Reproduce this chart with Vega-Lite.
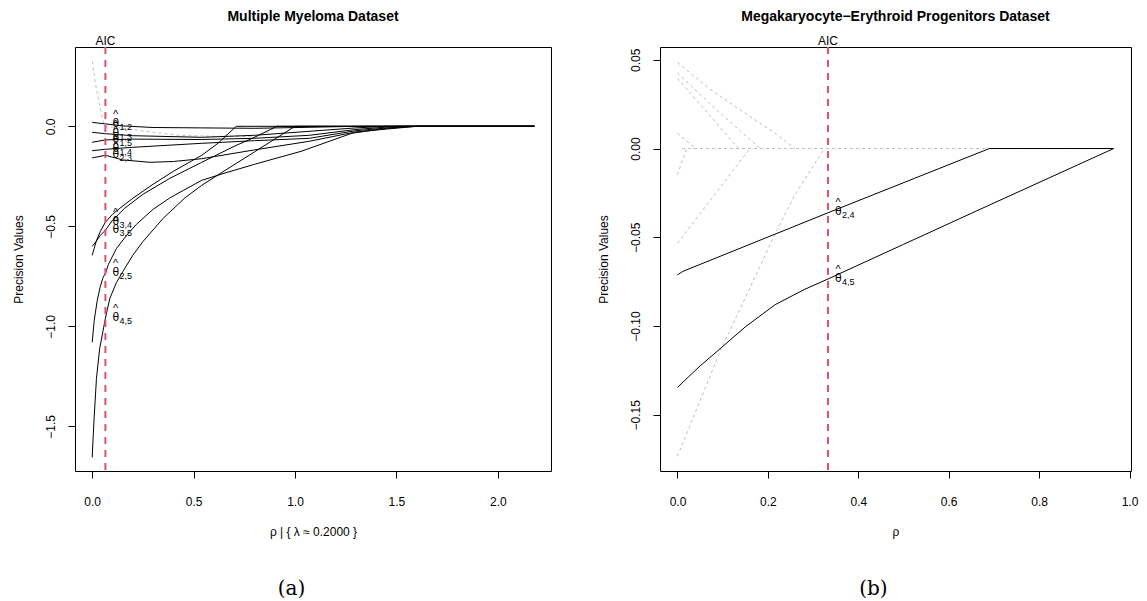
{
"$schema": "https://vega.github.io/schema/vega-lite/v6.json",
"background": "white",
"padding": {"left": 11, "top": 9, "right": 5, "bottom": 0},
"spacing": 44,
"config": {
  "view": {"stroke": "black", "strokeWidth": 1},
  "font": "Liberation Sans",
  "axis": {"domain": false, "grid": false, "tickColor": "black", "tickSize": 7, "labelColor": "black", "titleColor": "black", "labelFont": "Liberation Sans", "titleFont": "Liberation Sans", "labelFontSize": 12, "titleFontSize": 12, "titleFontWeight": "normal", "labelOverlap": false, "labelFlush": false},
  "axisX": {"labelPadding": 18, "titlePadding": 19},
  "axisY": {"labelAngle": 270, "labelAlign": "center", "labelBaseline": "bottom", "labelPadding": 11, "titlePadding": 19},
  "title": {"font": "Liberation Sans", "fontSize": 14, "fontWeight": "bold", "color": "black", "anchor": "middle"}
},
"datasets": {
  "leftLines": [
    {"s":"g24","g":"grey","x":0,"y":0.325},{"s":"g24","g":"grey","x":0.015,"y":0.22},{"s":"g24","g":"grey","x":0.03,"y":0.14},{"s":"g24","g":"grey","x":0.054,"y":0.025},{"s":"g24","g":"grey","x":0.065,"y":0.0},{"s":"g24","g":"grey","x":0.1,"y":-0.004},{"s":"g24","g":"grey","x":0.17,"y":-0.012},{"s":"g24","g":"grey","x":0.3,"y":-0.03},{"s":"g24","g":"grey","x":0.43,"y":-0.045},{"s":"g24","g":"grey","x":0.6,"y":-0.05},{"s":"g24","g":"grey","x":0.81,"y":-0.05},{"s":"g24","g":"grey","x":0.875,"y":-0.025},{"s":"g24","g":"grey","x":0.92,"y":0},{"s":"g24","g":"grey","x":2.18,"y":0},
    {"s":"t12","g":"k","x":0,"y":0.02},{"s":"t12","g":"k","x":0.03,"y":0.016},{"s":"t12","g":"k","x":0.065,"y":0.012},{"s":"t12","g":"k","x":0.15,"y":0.002},{"s":"t12","g":"k","x":0.3,"y":-0.006},{"s":"t12","g":"k","x":0.54,"y":-0.008},{"s":"t12","g":"k","x":0.8,"y":-0.01},{"s":"t12","g":"k","x":1.07,"y":-0.005},{"s":"t12","g":"k","x":1.25,"y":-0.001},{"s":"t12","g":"k","x":1.35,"y":0},{"s":"t12","g":"k","x":2.18,"y":0},
    {"s":"t13","g":"k","x":0,"y":-0.03},{"s":"t13","g":"k","x":0.065,"y":-0.037},{"s":"t13","g":"k","x":0.2,"y":-0.047},{"s":"t13","g":"k","x":0.54,"y":-0.055},{"s":"t13","g":"k","x":0.8,"y":-0.045},{"s":"t13","g":"k","x":1.07,"y":-0.025},{"s":"t13","g":"k","x":1.3,"y":-0.008},{"s":"t13","g":"k","x":1.45,"y":0},{"s":"t13","g":"k","x":2.18,"y":0},
    {"s":"t15","g":"k","x":0,"y":-0.08},{"s":"t15","g":"k","x":0.065,"y":-0.068},{"s":"t15","g":"k","x":0.2,"y":-0.064},{"s":"t15","g":"k","x":0.54,"y":-0.066},{"s":"t15","g":"k","x":0.8,"y":-0.06},{"s":"t15","g":"k","x":1.07,"y":-0.045},{"s":"t15","g":"k","x":1.3,"y":-0.016},{"s":"t15","g":"k","x":1.5,"y":0},{"s":"t15","g":"k","x":2.18,"y":0},
    {"s":"t14","g":"k","x":0,"y":-0.122},{"s":"t14","g":"k","x":0.065,"y":-0.115},{"s":"t14","g":"k","x":0.2,"y":-0.105},{"s":"t14","g":"k","x":0.54,"y":-0.085},{"s":"t14","g":"k","x":0.8,"y":-0.072},{"s":"t14","g":"k","x":1.07,"y":-0.06},{"s":"t14","g":"k","x":1.3,"y":-0.022},{"s":"t14","g":"k","x":1.55,"y":0},{"s":"t14","g":"k","x":2.18,"y":0},
    {"s":"t23","g":"k","x":0,"y":-0.158},{"s":"t23","g":"k","x":0.065,"y":-0.145},{"s":"t23","g":"k","x":0.15,"y":-0.168},{"s":"t23","g":"k","x":0.285,"y":-0.18},{"s":"t23","g":"k","x":0.4,"y":-0.176},{"s":"t23","g":"k","x":0.54,"y":-0.162},{"s":"t23","g":"k","x":0.8,"y":-0.118},{"s":"t23","g":"k","x":1.07,"y":-0.075},{"s":"t23","g":"k","x":1.3,"y":-0.028},{"s":"t23","g":"k","x":1.6,"y":0},{"s":"t23","g":"k","x":2.18,"y":0},
    {"s":"t34","g":"k","x":0,"y":-0.645},{"s":"t34","g":"k","x":0.01,"y":-0.61},{"s":"t34","g":"k","x":0.02,"y":-0.575},{"s":"t34","g":"k","x":0.04,"y":-0.525},{"s":"t34","g":"k","x":0.065,"y":-0.48},{"s":"t34","g":"k","x":0.1,"y":-0.44},{"s":"t34","g":"k","x":0.136,"y":-0.41},{"s":"t34","g":"k","x":0.2,"y":-0.36},{"s":"t34","g":"k","x":0.3,"y":-0.29},{"s":"t34","g":"k","x":0.4,"y":-0.225},{"s":"t34","g":"k","x":0.54,"y":-0.145},{"s":"t34","g":"k","x":0.62,"y":-0.085},{"s":"t34","g":"k","x":0.71,"y":0},{"s":"t34","g":"k","x":2.18,"y":0},
    {"s":"t35","g":"k","x":0,"y":-0.6},{"s":"t35","g":"k","x":0.02,"y":-0.575},{"s":"t35","g":"k","x":0.04,"y":-0.545},{"s":"t35","g":"k","x":0.065,"y":-0.52},{"s":"t35","g":"k","x":0.1,"y":-0.47},{"s":"t35","g":"k","x":0.16,"y":-0.41},{"s":"t35","g":"k","x":0.25,"y":-0.34},{"s":"t35","g":"k","x":0.383,"y":-0.26},{"s":"t35","g":"k","x":0.54,"y":-0.18},{"s":"t35","g":"k","x":0.7,"y":-0.1},{"s":"t35","g":"k","x":0.8,"y":-0.055},{"s":"t35","g":"k","x":0.91,"y":0},{"s":"t35","g":"k","x":2.18,"y":0},
    {"s":"t25","g":"k","x":0,"y":-1.08},{"s":"t25","g":"k","x":0.01,"y":-0.97},{"s":"t25","g":"k","x":0.025,"y":-0.87},{"s":"t25","g":"k","x":0.04,"y":-0.8},{"s":"t25","g":"k","x":0.054,"y":-0.755},{"s":"t25","g":"k","x":0.065,"y":-0.735},{"s":"t25","g":"k","x":0.08,"y":-0.69},{"s":"t25","g":"k","x":0.12,"y":-0.61},{"s":"t25","g":"k","x":0.17,"y":-0.545},{"s":"t25","g":"k","x":0.218,"y":-0.49},{"s":"t25","g":"k","x":0.3,"y":-0.415},{"s":"t25","g":"k","x":0.383,"y":-0.358},{"s":"t25","g":"k","x":0.45,"y":-0.32},{"s":"t25","g":"k","x":0.54,"y":-0.27},{"s":"t25","g":"k","x":0.65,"y":-0.235},{"s":"t25","g":"k","x":0.8,"y":-0.19},{"s":"t25","g":"k","x":1.03,"y":-0.125},{"s":"t25","g":"k","x":1.28,"y":-0.035},{"s":"t25","g":"k","x":1.45,"y":-0.01},{"s":"t25","g":"k","x":1.6,"y":0},{"s":"t25","g":"k","x":2.18,"y":0},
    {"s":"t45","g":"k","x":0,"y":-1.655},{"s":"t45","g":"k","x":0.005,"y":-1.55},{"s":"t45","g":"k","x":0.01,"y":-1.45},{"s":"t45","g":"k","x":0.021,"y":-1.26},{"s":"t45","g":"k","x":0.037,"y":-1.11},{"s":"t45","g":"k","x":0.054,"y":-1.02},{"s":"t45","g":"k","x":0.065,"y":-0.96},{"s":"t45","g":"k","x":0.087,"y":-0.86},{"s":"t45","g":"k","x":0.12,"y":-0.78},{"s":"t45","g":"k","x":0.152,"y":-0.725},{"s":"t45","g":"k","x":0.2,"y":-0.645},{"s":"t45","g":"k","x":0.251,"y":-0.575},{"s":"t45","g":"k","x":0.35,"y":-0.46},{"s":"t45","g":"k","x":0.457,"y":-0.358},{"s":"t45","g":"k","x":0.54,"y":-0.295},{"s":"t45","g":"k","x":0.65,"y":-0.224},{"s":"t45","g":"k","x":0.8,"y":-0.128},{"s":"t45","g":"k","x":0.9,"y":-0.064},{"s":"t45","g":"k","x":1.0,"y":0},{"s":"t45","g":"k","x":2.18,"y":0}
  ],
  "leftLabels": [
    {"x":0.065,"y":0.012,"sub":"1,2"},{"x":0.065,"y":-0.037,"sub":"1,3"},{"x":0.065,"y":-0.068,"sub":"1,5"},{"x":0.065,"y":-0.115,"sub":"1,4"},{"x":0.065,"y":-0.145,"sub":"2,3"},
    {"x":0.065,"y":-0.48,"sub":"3,4"},{"x":0.065,"y":-0.52,"sub":"3,5"},{"x":0.065,"y":-0.735,"sub":"2,5"},{"x":0.065,"y":-0.96,"sub":"4,5"}
  ],
  "leftAIC": [{"x":0.065,"label":"AIC","top":0.3965}],
  "rightLines": [
    {"s":"g1","g":"grey","x":0,"y":0.0485},{"s":"g1","g":"grey","x":0.069,"y":0.034},{"s":"g1","g":"grey","x":0.143,"y":0.021},{"s":"g1","g":"grey","x":0.216,"y":0.0086},{"s":"g1","g":"grey","x":0.26,"y":0},
    {"s":"g2","g":"grey","x":0,"y":0.0425},{"s":"g2","g":"grey","x":0.09,"y":0.021},{"s":"g2","g":"grey","x":0.183,"y":0},
    {"s":"g3","g":"grey","x":0,"y":0.0395},{"s":"g3","g":"grey","x":0.07,"y":0.019},{"s":"g3","g":"grey","x":0.135,"y":0},
    {"s":"g4","g":"grey","x":0,"y":0.0086},{"s":"g4","g":"grey","x":0.04,"y":0},
    {"s":"g5","g":"grey","x":0,"y":-0.0148},{"s":"g5","g":"grey","x":0.02,"y":0},
    {"s":"g6","g":"grey","x":0,"y":-0.0533},{"s":"g6","g":"grey","x":0.16,"y":0},
    {"s":"g7","g":"grey","x":0,"y":-0.1734},{"s":"g7","g":"grey","x":0.05,"y":-0.142},{"s":"g7","g":"grey","x":0.098,"y":-0.112},{"s":"g7","g":"grey","x":0.154,"y":-0.082},{"s":"g7","g":"grey","x":0.216,"y":-0.048},{"s":"g7","g":"grey","x":0.26,"y":-0.026},{"s":"g7","g":"grey","x":0.3,"y":-0.01},{"s":"g7","g":"grey","x":0.325,"y":0},
    {"s":"g8","g":"grey","x":0.01,"y":0},{"s":"g8","g":"grey","x":0.965,"y":0},
    {"s":"k24","g":"k","x":0,"y":-0.0712},{"s":"k24","g":"k","x":0.012,"y":-0.0692},{"s":"k24","g":"k","x":0.333,"y":-0.0362},{"s":"k24","g":"k","x":0.69,"y":0},{"s":"k24","g":"k","x":0.965,"y":0},
    {"s":"k45","g":"k","x":0,"y":-0.1346},{"s":"k45","g":"k","x":0.025,"y":-0.1285},{"s":"k45","g":"k","x":0.05,"y":-0.1225},{"s":"k45","g":"k","x":0.098,"y":-0.112},{"s":"k45","g":"k","x":0.15,"y":-0.1005},{"s":"k45","g":"k","x":0.216,"y":-0.088},{"s":"k45","g":"k","x":0.28,"y":-0.0795},{"s":"k45","g":"k","x":0.333,"y":-0.0735},{"s":"k45","g":"k","x":0.5,"y":-0.054},{"s":"k45","g":"k","x":0.7,"y":-0.0307},{"s":"k45","g":"k","x":0.965,"y":0}
  ],
  "rightLabels": [{"x":0.333,"y":-0.0355,"sub":"2,4"},{"x":0.333,"y":-0.0735,"sub":"4,5"}],
  "rightAIC": [{"x":0.333,"label":"AIC","top":0.0572}]
},
"hconcat": [
  {
    "title": {"text": "(a)", "orient": "bottom", "font": "DejaVu Serif", "fontSize": 20, "fontWeight": "normal", "offset": 41, "frame": "bounds", "dx": 10},
    "vconcat": [{
      "title": {"text": "Multiple Myeloma Dataset", "offset": 11},
      "width": 476, "height": 424,
      "layer": [
        {"data": {"name": "leftLines"}, "transform": [{"filter": "datum.g == 'grey'"}],
         "mark": {"type": "line", "color": "#bebebe", "strokeWidth": 1, "strokeDash": [3, 3]},
         "encoding": {
           "x": {"field": "x", "type": "quantitative", "scale": {"domain": [-0.0848, 2.262], "nice": false, "zero": false},
                 "axis": {"values": [0, 0.5, 1, 1.5, 2], "format": ".1f", "title": "ρ  | { λ ≈ 0.2000 }"}},
           "y": {"field": "y", "type": "quantitative", "scale": {"domain": [-1.7235, 0.3965], "nice": false, "zero": false},
                 "axis": {"values": [-1.5, -1, -0.5, 0], "format": ".1f", "title": "Precision Values"}},
           "detail": {"field": "s"}}},
        {"data": {"name": "leftLines"}, "transform": [{"filter": "datum.g == 'k'"}],
         "mark": {"type": "line", "color": "black", "strokeWidth": 1},
         "encoding": {"x": {"field": "x", "type": "quantitative"}, "y": {"field": "y", "type": "quantitative"}, "detail": {"field": "s"}}},
        {"data": {"name": "leftAIC"},
         "mark": {"type": "rule", "color": "#DF536B", "strokeWidth": 2, "strokeDash": [7, 6]},
         "encoding": {"x": {"field": "x", "type": "quantitative"}}},
        {"data": {"name": "leftAIC"},
         "mark": {"type": "text", "baseline": "bottom", "dy": 1, "fontSize": 12, "color": "black"},
         "encoding": {"x": {"field": "x", "type": "quantitative"}, "y": {"field": "top", "type": "quantitative"}, "text": {"field": "label"}}},
        {"data": {"name": "leftLabels"},
         "mark": {"type": "text", "text": "θ", "align": "left", "baseline": "middle", "dx": 7, "dy": -1, "fontSize": 12, "color": "black"},
         "encoding": {"x": {"field": "x", "type": "quantitative"}, "y": {"field": "y", "type": "quantitative"}}},
        {"data": {"name": "leftLabels"},
         "mark": {"type": "text", "text": "^", "align": "left", "baseline": "middle", "dx": 7.5, "dy": -9, "fontSize": 11, "color": "black"},
         "encoding": {"x": {"field": "x", "type": "quantitative"}, "y": {"field": "y", "type": "quantitative"}}},
        {"data": {"name": "leftLabels"},
         "mark": {"type": "text", "align": "left", "baseline": "middle", "dx": 14, "dy": 3, "fontSize": 9, "color": "black"},
         "encoding": {"x": {"field": "x", "type": "quantitative"}, "y": {"field": "y", "type": "quantitative"}, "text": {"field": "sub"}}}
      ]
    }]
  },
  {
    "title": {"text": "(b)", "orient": "bottom", "font": "DejaVu Serif", "fontSize": 20, "fontWeight": "normal", "offset": 41, "frame": "bounds", "dx": 6},
    "vconcat": [{
      "title": {"text": "Megakaryocyte−Erythroid Progenitors Dataset", "offset": 11},
      "width": 471, "height": 424,
      "layer": [
        {"data": {"name": "rightLines"}, "transform": [{"filter": "datum.g == 'grey'"}],
         "mark": {"type": "line", "color": "#bebebe", "strokeWidth": 1, "strokeDash": [3, 3]},
         "encoding": {
           "x": {"field": "x", "type": "quantitative", "scale": {"domain": [-0.0387, 1.0033], "nice": false, "zero": false},
                 "axis": {"values": [0, 0.2, 0.4, 0.6, 0.8, 1], "format": ".1f", "title": "ρ"}},
           "y": {"field": "y", "type": "quantitative", "scale": {"domain": [-0.1817, 0.0572], "nice": false, "zero": false},
                 "axis": {"values": [-0.15, -0.1, -0.05, 0, 0.05], "format": ".2f", "title": "Precision Values"}},
           "detail": {"field": "s"}}},
        {"data": {"name": "rightLines"}, "transform": [{"filter": "datum.g == 'k'"}],
         "mark": {"type": "line", "color": "black", "strokeWidth": 1},
         "encoding": {"x": {"field": "x", "type": "quantitative"}, "y": {"field": "y", "type": "quantitative"}, "detail": {"field": "s"}}},
        {"data": {"name": "rightAIC"},
         "mark": {"type": "rule", "color": "#DF536B", "strokeWidth": 2, "strokeDash": [7, 6]},
         "encoding": {"x": {"field": "x", "type": "quantitative"}}},
        {"data": {"name": "rightAIC"},
         "mark": {"type": "text", "baseline": "bottom", "dy": 1, "fontSize": 12, "color": "black"},
         "encoding": {"x": {"field": "x", "type": "quantitative"}, "y": {"field": "top", "type": "quantitative"}, "text": {"field": "label"}}},
        {"data": {"name": "rightLabels"},
         "mark": {"type": "text", "text": "θ", "align": "left", "baseline": "middle", "dx": 7, "dy": -1, "fontSize": 12, "color": "black"},
         "encoding": {"x": {"field": "x", "type": "quantitative"}, "y": {"field": "y", "type": "quantitative"}}},
        {"data": {"name": "rightLabels"},
         "mark": {"type": "text", "text": "^", "align": "left", "baseline": "middle", "dx": 7.5, "dy": -9, "fontSize": 11, "color": "black"},
         "encoding": {"x": {"field": "x", "type": "quantitative"}, "y": {"field": "y", "type": "quantitative"}}},
        {"data": {"name": "rightLabels"},
         "mark": {"type": "text", "align": "left", "baseline": "middle", "dx": 14, "dy": 3, "fontSize": 9, "color": "black"},
         "encoding": {"x": {"field": "x", "type": "quantitative"}, "y": {"field": "y", "type": "quantitative"}, "text": {"field": "sub"}}}
      ]
    }]
  }
]
}
